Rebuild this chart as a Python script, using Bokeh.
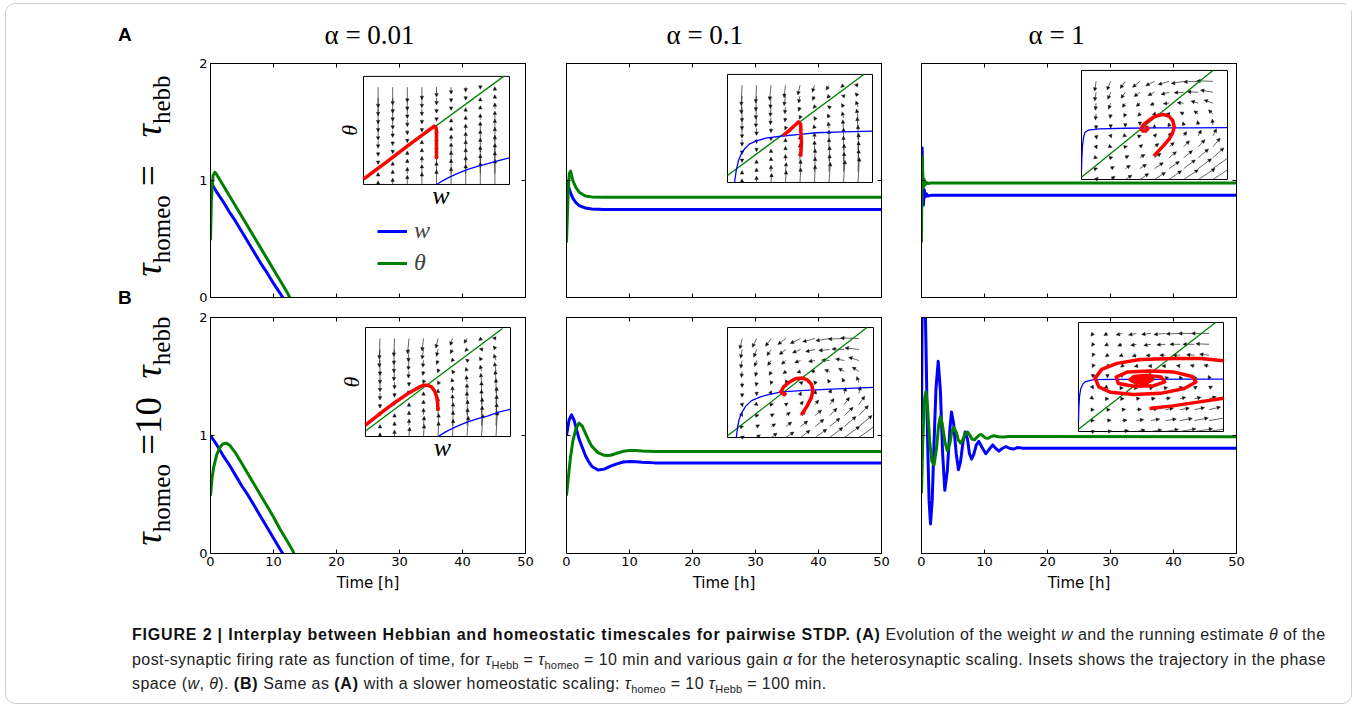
import math
from bokeh.plotting import figure
from bokeh.models import (Range1d, LinearAxis, FixedTicker, Arrow, NormalHead,
                          Legend, LegendItem, Div, Title, ColumnDataSource)
from bokeh.layouts import row, column
from bokeh.embed import file_html
from bokeh.resources import INLINE
from bokeh.core.properties import value

# ============================ data ============================
col_titles = ["α = 0.01", "α = 0.1", "α = 1"]
x_ticks = [0, 10, 20, 30, 40, 50]
y_ticks = [0, 1, 2]
x_label = "Time [h]"
legend_labels = ["w", "θ"]
inset_lim = [0, 2]
inset_w_grid = [0.2, 0.4, 0.6, 0.8, 1.0, 1.2, 1.4, 1.6, 1.8]
inset_th_grid = [1.8, 1.6, 1.4, 1.2, 1.0, 0.8, 0.6, 0.4, 0.2, 0.0]  # rows, top -> bottom

# ---- time courses (t in hours): w (blue) and theta (green)
a1_t_w = [0, 0.2, 1, 2, 3, 4, 5, 6, 7, 8, 9, 10, 11, 11.7]
a1_w = [0.99, 0.97, 0.90, 0.82, 0.73, 0.65, 0.56, 0.47, 0.38, 0.29, 0.21, 0.12, 0.04, -0.02]
a1_t_th = [0, 0.15, 0.4, 0.7, 1, 2, 3, 4, 5, 6, 7, 8, 9, 10, 11, 12, 12.7]
a1_th = [0.49, 0.85, 1.04, 1.07, 1.05, 0.96, 0.87, 0.78, 0.69, 0.60, 0.51, 0.42, 0.33, 0.24, 0.15, 0.06, -0.01]

a2_t_w = [0, 0.15, 0.3, 0.6, 1, 1.5, 2, 3, 4, 6, 50]
a2_w = [0.99, 0.98, 0.95, 0.90, 0.85, 0.81, 0.785, 0.765, 0.757, 0.752, 0.752]
a2_t_th = [0, 0.15, 0.3, 0.45, 0.65, 1, 1.5, 2, 3, 4, 6, 50]
a2_th = [0.47, 0.72, 0.95, 1.06, 1.08, 1.00, 0.94, 0.90, 0.868, 0.86, 0.857, 0.857]

a3_t_w = [0, 0.05, 0.1, 0.2, 0.3, 0.45, 0.6, 0.8, 1.0, 1.5, 50]
a3_w = [1.0, 1.2, 1.28, 1.0, 0.79, 0.92, 0.86, 0.885, 0.868, 0.873, 0.873]
a3_t_th = [0, 0.05, 0.12, 0.25, 0.4, 0.55, 0.75, 1.0, 1.5, 50]
a3_th = [0.47, 0.9, 1.21, 0.93, 1.01, 0.96, 0.985, 0.975, 0.978, 0.978]

b1_t_w = [0, 1, 2, 3, 4, 5, 6, 7, 8, 9, 10, 11, 11.7]
b1_w = [1.0, 0.92, 0.83, 0.75, 0.66, 0.57, 0.49, 0.40, 0.31, 0.22, 0.13, 0.04, -0.02]
b1_t_th = [0, 0.25, 0.5, 1, 1.5, 2, 2.5, 3, 4, 5, 6, 7, 8, 9, 10, 11, 12, 13, 13.4]
b1_th = [0.49, 0.64, 0.73, 0.84, 0.90, 0.93, 0.935, 0.92, 0.85, 0.76, 0.67, 0.58, 0.49, 0.40, 0.31, 0.21, 0.12, 0.03, -0.02]

b2_t_w = [0, 0.4, 0.8, 1.2, 1.6, 2, 2.5, 3, 3.5, 4, 5, 6, 7, 8, 9, 10, 11, 12, 14, 50]
b2_w = [1.0, 1.13, 1.175, 1.13, 1.05, 0.97, 0.90, 0.83, 0.78, 0.74, 0.708, 0.715, 0.74, 0.76, 0.775, 0.78, 0.778, 0.773, 0.768, 0.768]
b2_t_th = [0, 0.3, 0.6, 1.0, 1.5, 2.0, 2.5, 3, 3.5, 4, 5, 6, 6.5, 7, 8, 9, 10, 11, 12, 14, 50]
b2_th = [0.49, 0.65, 0.80, 0.95, 1.06, 1.105, 1.08, 1.02, 0.96, 0.91, 0.855, 0.832, 0.83, 0.833, 0.85, 0.866, 0.873, 0.872, 0.868, 0.864, 0.864]

b3_t_w = [0, 0.1, 0.25, 0.45, 0.7, 0.95, 1.2, 1.43, 1.7, 2.0, 2.3, 2.65, 3.0, 3.35, 3.7, 4.1, 4.5, 4.76,
          5.1, 5.5, 5.87, 6.2, 6.6, 6.93, 7.3, 7.6, 7.94, 8.3, 8.7, 9.1, 9.6, 10.2, 10.7, 11.3, 11.8,
          12.3, 12.8, 13.4, 14.0, 14.6, 15.3, 16.0, 50]
b3_w = [1.0, 2.0, 2.6, 2.5, 1.8, 1.0, 0.45, 0.25, 0.45, 0.95, 1.40, 1.63, 1.38, 0.85, 0.535, 0.70, 1.05, 1.20,
        1.10, 0.85, 0.71, 0.78, 0.95, 1.03, 0.97, 0.85, 0.80, 0.84, 0.92, 0.95, 0.90, 0.845, 0.88, 0.92, 0.89,
        0.868, 0.89, 0.907, 0.89, 0.885, 0.898, 0.893, 0.893]
b3_t_th = [0, 0.2, 0.45, 0.7, 0.95, 1.3, 1.65, 2.0, 2.4, 2.7, 3.0, 3.3, 3.7, 4.1, 4.5, 4.8, 5.1, 5.5, 5.85,
           6.2, 6.6, 7.0, 7.3, 7.7, 8.0, 8.4, 8.8, 9.2, 9.5, 9.9, 10.2, 10.6, 11.0, 11.5, 12.2, 13.0, 14.0, 50]
b3_th = [0.51, 0.95, 1.30, 1.37, 1.25, 0.95, 0.78, 0.75, 0.90, 1.08, 1.16, 1.10, 0.95, 0.87, 0.93, 1.03, 1.07,
         1.03, 0.96, 0.935, 0.97, 1.02, 1.03, 1.0, 0.97, 0.963, 0.985, 1.005, 1.008, 0.99, 0.978, 0.977, 0.99,
         0.998, 0.99, 0.988, 0.992, 0.99]

# ---- insets: phase plane (w, theta); green = theta nullcline, blue = w nullcline, red = trajectory
a1_green_w, a1_green_th = [0, 1.92], [0.10, 2.0]
a1_blue_w = [1.0, 1.05, 1.1, 1.2, 1.3, 1.41, 1.55, 1.69, 1.85, 2.0]
a1_blue_th = [0.0, 0.04, 0.08, 0.15, 0.21, 0.27, 0.33, 0.38, 0.44, 0.49]
a1_red_w = [1.0, 1.0, 1.0, 0.99, 0.97, 0.9, 0.6, 0.3, 0.0]
a1_red_th = [0.47, 0.8, 1.0, 1.06, 1.08, 1.01, 0.71, 0.40, 0.10]

a2_green_w, a2_green_th = [0, 1.88], [0.13, 2.0]
a2_blue_w = [0.097, 0.12, 0.15, 0.19, 0.24, 0.30, 0.40, 0.53, 0.76, 1.0, 1.22, 1.6, 2.0]
a2_blue_th = [0.0, 0.22, 0.40, 0.53, 0.63, 0.71, 0.77, 0.82, 0.86, 0.89, 0.92, 0.935, 0.95]
a2_red_w = [1.01, 1.02, 1.01, 1.01, 0.98, 0.93, 0.85, 0.77]
a2_red_th = [0.48, 0.75, 0.98, 1.08, 1.12, 1.06, 0.96, 0.87]

a3_green_w, a3_green_th = [0, 1.80], [0.04, 2.0]
a3_blue_w = [0.0, 0.005, 0.014, 0.03, 0.046, 0.08, 0.115, 0.25, 0.6, 1.0, 1.5, 2.0]
a3_blue_th = [0.18, 0.4, 0.63, 0.78, 0.86, 0.895, 0.91, 0.93, 0.94, 0.945, 0.948, 0.95]
a3_red_w = [0.99, 1.06, 1.13, 1.20, 1.25, 1.27, 1.25, 1.20, 1.13, 1.06, 0.98, 0.92, 0.86, 0.83, 0.82, 0.84, 0.88, 0.91, 0.90, 0.87]
a3_red_th = [0.43, 0.53, 0.63, 0.74, 0.86, 0.97, 1.08, 1.16, 1.19, 1.18, 1.14, 1.08, 1.02, 0.97, 0.92, 0.89, 0.89, 0.93, 0.96, 0.95]

b1_green_w, b1_green_th = [0, 1.89], [0.10, 1.98]
b1_blue_w = [1.0, 1.05, 1.1, 1.2, 1.3, 1.41, 1.55, 1.69, 1.85, 2.0]
b1_blue_th = [0.0, 0.04, 0.08, 0.15, 0.21, 0.27, 0.33, 0.38, 0.45, 0.50]
b1_red_w = [1.0, 0.995, 0.98, 0.95, 0.91, 0.86, 0.81, 0.76, 0.6, 0.4, 0.2, 0.0]
b1_red_th = [0.47, 0.62, 0.74, 0.84, 0.91, 0.94, 0.94, 0.92, 0.80, 0.62, 0.42, 0.21]

b2_green_w, b2_green_th = [0, 1.91], [0.03, 2.0]
b2_blue_w = [0.12, 0.14, 0.16, 0.19, 0.25, 0.33, 0.45, 0.56, 0.74, 1.12, 1.5, 2.0]
b2_blue_th = [0.0, 0.2, 0.33, 0.44, 0.57, 0.67, 0.74, 0.78, 0.83, 0.86, 0.885, 0.91]
b2_red_w = [1.01, 1.09, 1.15, 1.17, 1.15, 1.09, 1.02, 0.93, 0.84, 0.77, 0.73, 0.77, 0.80]
b2_red_th = [0.41, 0.57, 0.73, 0.86, 0.97, 1.05, 1.08, 1.07, 1.00, 0.92, 0.83, 0.78, 0.81]

b3_green_w, b3_green_th = [0, 1.89], [0.04, 2.0]
b3_blue_w = [0.0, 0.005, 0.014, 0.03, 0.06, 0.09, 0.15, 0.21, 0.5, 1.0, 1.5, 2.0]
b3_blue_th = [0.18, 0.45, 0.64, 0.78, 0.87, 0.91, 0.935, 0.95, 0.955, 0.958, 0.96, 0.96]
b3_red1_w = [0.98, 1.3, 1.6, 2.0]
b3_red1_th = [0.42, 0.47, 0.53, 0.61]
b3_red2_w = [2.0, 1.69, 1.32, 0.85, 0.53, 0.32, 0.23, 0.28, 0.44, 0.76, 1.13, 1.46, 1.62, 1.57, 1.32, 0.99,
             0.67, 0.52, 0.55, 0.76, 1.04, 1.19, 1.14, 0.95, 0.76, 0.71, 0.79, 0.95, 1.02, 0.92, 0.81, 0.83, 0.92, 0.88]
b3_red2_th = [1.30, 1.34, 1.34, 1.32, 1.25, 1.14, 0.98, 0.82, 0.72, 0.68, 0.70, 0.79, 0.91, 1.01, 1.09, 1.11,
              1.09, 1.00, 0.88, 0.83, 0.84, 0.91, 1.00, 1.03, 1.01, 0.95, 0.90, 0.90, 0.95, 0.98, 0.97, 0.93, 0.93, 0.96]
b3_core = [0.86, 0.94, 0.30, 0.14]  # centre w, centre theta, width, height of the dense core

# ---- quiver fields, hundredths of inset units (rows: theta 1.8 -> 0.0, cols: w 0.2 -> 1.8)
q_slow_v = [
    [-38, -33, -28, -23, -18, -13, -9, -4, 1],
    [-33, -28, -23, -18, -13, -8, -4, 1, 6],
    [-28, -23, -18, -13, -8, -3, 2, 6, 11],
    [-23, -18, -13, -8, -3, 2, 7, 11, 16],
    [-18, -13, -8, -3, 2, 7, 12, 16, 21],
    [-13, -8, -3, 2, 7, 12, 17, 21, 26],
    [-8, -3, 2, 7, 12, 17, 22, 26, 31],
    [-3, 2, 7, 12, 17, 22, 27, 31, 36],
    [2, 7, 12, 17, 22, 27, 32, 36, 41],
    [7, 12, 17, 22, 27, 32, 37, 41, 46],
]
q_a1_u = [
    [0, 0, 0, 0, 0, 0, 0, 0, 0], [0, 0, 0, 0, 0, 0, 0, 0, 0], [0, 0, 0, 0, 0, 0, 0, 0, 0],
    [0, 0, 0, 0, 0, 0, 0, 0, 0], [0, 0, 0, 0, 0, 0, 0, 0, 0], [0, 0, 0, 0, 0, 0, 0, 0, 0],
    [0, 0, 0, 0, 0, 0, 0, 0, 0], [0, 0, 0, 0, 0, 0, 0, 0, 0], [0, 0, 0, 0, 0, 0, 0, 0, 0],
    [0, 0, 0, 0, 0, 0, 0, 0, 0],
]
q_tilt_u = [
    [-1, -1, -2, -2, -3, -3, -4, -4, -5],
    [-1, -1, -1, -2, -2, -3, -3, -3, -4],
    [0, -1, -1, -1, -2, -2, -2, -3, -3],
    [0, -1, -1, -1, -1, -1, -2, -2, -2],
    [0, 0, 0, -1, -1, -1, -1, -1, -1],
    [0, 0, 0, 0, 0, 0, 0, 0, 0],
    [0, 0, 0, 0, 0, 0, 0, 0, 1],
    [0, 0, 0, 0, 0, 1, 1, 1, 1],
    [0, 0, 0, 1, 1, 1, 1, 1, 1],
    [0, 0, 1, 1, 1, 1, 2, 2, 2],
]
q_a3_u = [
    [-2, -5, -7, -10, -12, -15, -17, -20, -22],
    [-2, -4, -6, -8, -9, -11, -13, -15, -17],
    [-1, -3, -4, -5, -6, -8, -9, -10, -12],
    [-1, -1, -2, -3, -3, -4, -5, -6, -6],
    [0, 0, 0, 0, 0, -1, -1, -1, -1],
    [1, 1, 2, 2, 3, 3, 4, 4, 5],
    [1, 2, 3, 4, 6, 7, 8, 9, 10],
    [2, 3, 5, 7, 9, 10, 12, 14, 15],
    [2, 5, 7, 9, 12, 14, 16, 18, 21],
    [3, 6, 9, 12, 15, 17, 20, 23, 26],
]
q_a3_v = [
    [-18, -16, -13, -11, -8, -6, -4, -1, 1],
    [-16, -13, -11, -8, -6, -4, -1, 1, 4],
    [-13, -11, -8, -6, -4, -1, 1, 4, 6],
    [-11, -8, -6, -4, -1, 1, 4, 6, 8],
    [-8, -6, -4, -1, 1, 4, 6, 8, 11],
    [-6, -4, -1, 1, 4, 6, 8, 11, 13],
    [-4, -1, 1, 4, 6, 8, 11, 13, 16],
    [-1, 1, 4, 6, 8, 11, 13, 16, 18],
    [1, 4, 6, 8, 11, 13, 16, 18, 20],
    [4, 6, 8, 11, 13, 16, 18, 20, 23],
]
q_b2_u = [
    [-3, -6, -8, -11, -14, -17, -19, -22, -25],
    [-2, -4, -6, -9, -11, -13, -15, -17, -19],
    [-2, -3, -5, -6, -8, -9, -11, -12, -14],
    [-1, -2, -3, -4, -5, -6, -7, -8, -9],
    [0, -1, -1, -1, -2, -2, -3, -3, -3],
    [0, 0, 1, 1, 1, 1, 2, 2, 2],
    [1, 2, 3, 3, 4, 5, 6, 7, 8],
    [1, 3, 4, 6, 7, 9, 10, 12, 13],
    [2, 4, 6, 8, 10, 12, 14, 16, 18],
    [3, 5, 8, 11, 13, 16, 18, 21, 24],
]
q_b2_v = [
    [-19, -16, -14, -11, -9, -6, -4, -1, 1],
    [-16, -14, -11, -9, -6, -4, -2, 1, 3],
    [-14, -11, -9, -7, -4, -2, 1, 3, 6],
    [-11, -9, -7, -4, -2, 1, 3, 6, 8],
    [-9, -7, -4, -2, 1, 3, 6, 8, 11],
    [-7, -4, -2, 1, 3, 6, 8, 11, 13],
    [-4, -2, 1, 3, 6, 8, 11, 13, 15],
    [-2, 1, 3, 6, 8, 10, 13, 15, 18],
    [1, 3, 5, 8, 10, 13, 15, 18, 20],
    [3, 5, 8, 10, 13, 15, 18, 20, 23],
]
q_b3_u = [
    [-3, -5, -8, -11, -13, -16, -19, -22, -24],
    [-2, -4, -6, -8, -10, -12, -14, -16, -18],
    [-1, -3, -4, -6, -7, -8, -10, -11, -13],
    [-1, -2, -2, -3, -4, -5, -5, -6, -7],
    [0, 0, 0, -1, -1, -1, -1, -1, -1],
    [1, 1, 2, 2, 3, 3, 4, 4, 5],
    [1, 2, 3, 5, 6, 7, 8, 9, 10],
    [2, 4, 5, 7, 9, 11, 13, 14, 16],
    [2, 5, 7, 10, 12, 15, 17, 19, 22],
    [3, 6, 9, 12, 15, 18, 22, 25, 28],
]
q_b3_v = [
    [-5, -4, -3, -3, -2, -2, -1, 0, 0],
    [-4, -3, -3, -2, -2, -1, 0, 0, 1],
    [-3, -3, -2, -2, -1, 0, 0, 1, 2],
    [-3, -2, -2, -1, 0, 0, 1, 2, 2],
    [-2, -2, -1, 0, 0, 1, 2, 2, 3],
    [-2, -1, 0, 0, 1, 1, 2, 3, 3],
    [-1, 0, 0, 1, 1, 2, 3, 3, 4],
    [0, 0, 1, 1, 2, 3, 3, 4, 5],
    [0, 1, 1, 2, 3, 3, 4, 5, 5],
    [1, 1, 2, 3, 3, 4, 5, 5, 6],
]

row_label_a = "<i>τ</i><sub>homeo</sub>&nbsp;=&nbsp;&nbsp;&nbsp;<i>τ</i><sub>hebb</sub>"
row_label_b = "<i>τ</i><sub>homeo</sub>&nbsp;=10&nbsp;&nbsp;<i>τ</i><sub>hebb</sub>"
caption_lines = [
    "<b>FIGURE 2 | Interplay between Hebbian and homeostatic timescales for pairwise STDP. (A)</b> "
    "Evolution of the weight <i>w</i> and the running estimate <i>θ</i> of the",
    "post-synaptic firing rate as function of time, for <i>τ</i><sub>Hebb</sub> = <i>τ</i><sub>homeo</sub> = 10 min "
    "and various gain <i>α</i> for the heterosynaptic scaling. Insets shows the trajectory in the phase",
    "space (<i>w</i>, <i>θ</i>). <b>(B)</b> Same as <b>(A)</b> with a slower homeostatic scaling: "
    "<i>τ</i><sub>homeo</sub> = 10 <i>τ</i><sub>Hebb</sub> = 100 min.",
]

# ============================ layout constants ============================
FRAME_W, FRAME_H = 315, 236
col_left = [211, 567, 922]
row_top = [62, 318]
b_left = [31, 21, 20]
b_right = [20, 20, 115]
b_top = [57, 12]
b_bottom = [8, 46]
title_left = [114, 100, 107]
inset_boxes = [
    [(364, 510, 75, 184), (728, 873, 73, 182), (1082, 1228, 69, 179)],
    [(366, 511, 328, 437), (728, 874, 328, 438), (1079, 1224, 323, 432)],
]
BLUE, GREEN, RED = "#0000ff", "#008000", "#ff0000"

panels = [
    [
        dict(tw=a1_t_w, w=a1_w, tth=a1_t_th, th=a1_th, gw=a1_green_w, gth=a1_green_th,
             bw=a1_blue_w, bth=a1_blue_th, red=[(a1_red_w, a1_red_th)], U=q_a1_u, V=q_slow_v),
        dict(tw=a2_t_w, w=a2_w, tth=a2_t_th, th=a2_th, gw=a2_green_w, gth=a2_green_th,
             bw=a2_blue_w, bth=a2_blue_th, red=[(a2_red_w, a2_red_th)], U=q_tilt_u, V=q_slow_v),
        dict(tw=a3_t_w, w=a3_w, tth=a3_t_th, th=a3_th, gw=a3_green_w, gth=a3_green_th,
             bw=a3_blue_w, bth=a3_blue_th, red=[(a3_red_w, a3_red_th)], U=q_a3_u, V=q_a3_v),
    ],
    [
        dict(tw=b1_t_w, w=b1_w, tth=b1_t_th, th=b1_th, gw=b1_green_w, gth=b1_green_th,
             bw=b1_blue_w, bth=b1_blue_th, red=[(b1_red_w, b1_red_th)], U=q_tilt_u, V=q_slow_v),
        dict(tw=b2_t_w, w=b2_w, tth=b2_t_th, th=b2_th, gw=b2_green_w, gth=b2_green_th,
             bw=b2_blue_w, bth=b2_blue_th, red=[(b2_red_w, b2_red_th)], U=q_b2_u, V=q_b2_v),
        dict(tw=b3_t_w, w=b3_w, tth=b3_t_th, th=b3_th, gw=b3_green_w, gth=b3_green_th,
             bw=b3_blue_w, bth=b3_blue_th, red=[(b3_red1_w, b3_red1_th), (b3_red2_w, b3_red2_th)],
             U=q_b3_u, V=q_b3_v, core=b3_core),
    ],
]


def style_axis(ax, show_labels):
    ax.axis_line_color = "black"
    ax.axis_line_width = 1
    ax.major_tick_line_color = "black"
    ax.major_tick_in = 4
    ax.major_tick_out = 0
    ax.minor_tick_in = 0
    ax.minor_tick_out = 0
    ax.minor_tick_line_color = None
    if show_labels:
        ax.major_label_text_font = "DejaVu Sans"
        ax.major_label_text_font_size = "13px"
        ax.major_label_text_color = "black"
        ax.major_label_standoff = 3
    else:
        ax.major_label_text_font_size = "1px"
        ax.major_label_text_color = None
        ax.major_label_standoff = 0


def add_quiver(p, U, V):
    lo, hi = inset_lim
    full = dict(x0=[], y0=[], x1=[], y1=[])
    clip = dict(x0=[], y0=[], x1=[], y1=[])
    dots = dict(x=[], y=[])
    for i, th in enumerate(inset_th_grid):
        for j, w in enumerate(inset_w_grid):
            du, dv = U[i][j] / 100.0, V[i][j] / 100.0
            if du == 0 and dv == 0:
                dots["x"].append(w)
                dots["y"].append(th)
                continue
            x1, y1 = w + du, th + dv
            if lo <= x1 <= hi and lo <= y1 <= hi:
                tgt = full
            else:
                f = 1.0
                if x1 > hi: f = min(f, (hi - w) / du)
                if x1 < lo: f = min(f, (lo - w) / du)
                if y1 > hi: f = min(f, (hi - th) / dv)
                if y1 < lo: f = min(f, (lo - th) / dv)
                x1, y1 = w + f * du, th + f * dv
                tgt = clip
            tgt["x0"].append(w); tgt["y0"].append(th)
            tgt["x1"].append(x1); tgt["y1"].append(y1)
    rn = dict(x_range_name="iw", y_range_name="ith")
    a1 = Arrow(end=NormalHead(size=3.5, fill_color="#111111", line_color="#111111", line_width=0.4),
               source=ColumnDataSource(full), x_start="x0", y_start="y0", x_end="x1", y_end="y1",
               line_color="#222222", line_width=0.7, level="underlay", **rn)
    a2 = Arrow(end=None, source=ColumnDataSource(clip), x_start="x0", y_start="y0", x_end="x1", y_end="y1",
               line_color="#222222", line_width=0.7, level="underlay", **rn)
    p.add_layout(a1)
    p.add_layout(a2)
    if dots["x"]:
        p.scatter(dots["x"], dots["y"], size=1.5, color="black", level="underlay", **rn)


def make_panel(ri, ci, d):
    width = b_left[ci] + FRAME_W + b_right[ci]
    height = b_top[ri] + FRAME_H + b_bottom[ri]
    p = figure(width=width, height=height, x_range=Range1d(x_ticks[0], x_ticks[-1]),
               y_range=Range1d(y_ticks[0], y_ticks[-1]), output_backend="svg", toolbar_location=None,
               min_border_left=b_left[ci], min_border_right=b_right[ci],
               min_border_top=b_top[ri], min_border_bottom=b_bottom[ri])
    p.margin = 0
    p.xgrid.visible = False
    p.ygrid.visible = False
    p.outline_line_color = "black"
    p.outline_line_width = 1
    p.background_fill_color = "white"
    p.border_fill_color = "white"
    p.xaxis.ticker = FixedTicker(ticks=x_ticks)
    p.yaxis.ticker = FixedTicker(ticks=y_ticks)
    style_axis(p.below[0], ri == 1)
    style_axis(p.left[0], ci == 0)
    top = LinearAxis(ticker=FixedTicker(ticks=x_ticks))
    right = LinearAxis(ticker=FixedTicker(ticks=y_ticks))
    style_axis(top, False)
    style_axis(right, False)
    p.add_layout(top, "above")
    p.add_layout(right, "right")
    if ri == 1:
        ax = p.below[0]
        ax.axis_label = x_label
        ax.axis_label_text_font = "DejaVu Sans"
        ax.axis_label_text_font_size = "15px"
        ax.axis_label_text_font_style = "normal"
        ax.axis_label_text_color = "black"
        ax.axis_label_standoff = 5
    if ri == 0:
        p.title = Title(text=col_titles[ci], align="left", text_font="Liberation Serif",
                        text_font_size="27px", text_font_style="normal", text_color="black",
                        offset=title_left[ci], standoff=27)

    # main time courses
    rw = p.line(d["tw"], d["w"], line_color=BLUE, line_width=3, line_join="round")
    rth = p.line(d["tth"], d["th"], line_color=GREEN, line_width=3, line_join="round")

    # inset ranges mapped onto the inset box
    fx0 = col_left[ci]; fx1 = fx0 + FRAME_W
    fy0 = row_top[ri]; fy1 = fy0 + FRAME_H
    bx0, bx1, by0, by1 = inset_boxes[ri][ci]
    lo, hi = inset_lim
    sx = (hi - lo) / (bx1 - bx0)
    sy = (hi - lo) / (by1 - by0)
    p.extra_x_ranges = {"iw": Range1d(lo - (bx0 - fx0) * sx, hi + (fx1 - bx1) * sx)}
    p.extra_y_ranges = {"ith": Range1d(lo - (fy1 - by1) * sy, hi + (by0 - fy0) * sy)}
    rn = dict(x_range_name="iw", y_range_name="ith")
    p.quad(left=[lo], right=[hi], bottom=[lo], top=[hi], fill_color="white", line_color="black",
           line_width=1, level="underlay", **rn)
    add_quiver(p, d["U"], d["V"])
    p.line(d["gw"], d["gth"], line_color=GREEN, line_width=1.3, **rn)
    p.line(d["bw"], d["bth"], line_color=BLUE, line_width=1.3, **rn)
    for (rwv, rtv) in d["red"]:
        p.line(rwv, rtv, line_color=RED, line_width=3.5, line_join="round", line_cap="butt", **rn)
    if "core" in d:
        cw, cth, ew, eh = d["core"]
        p.ellipse([cw], [cth], width=ew, height=eh, fill_color=RED, line_color=RED, **rn)

    if ci == 0:
        p.text([-0.19], [1.0], text=[legend_labels[1]], angle=math.pi / 2, text_align="center",
               text_baseline="middle", text_font=value("Liberation Serif"), text_font_style="italic",
               text_font_size="22px", text_color="black", **rn)
        p.text([1.06], [-0.21], text=[legend_labels[0]], text_align="center", text_baseline="middle",
               text_font=value("Liberation Serif"), text_font_style="italic", text_font_size="26px",
               text_color="black", **rn)
    if ri == 0 and ci == 0:
        leg = Legend(items=[LegendItem(label=value(legend_labels[0]), renderers=[rw]),
                            LegendItem(label=value(legend_labels[1]), renderers=[rth])],
                     location=(167, 21), padding=0, margin=0, spacing=5, glyph_width=30,
                     glyph_height=24, label_height=24, label_standoff=7,
                     label_text_font="Liberation Serif", label_text_font_style="italic",
                     label_text_font_size="24px", border_line_color=None, background_fill_alpha=0)
        p.add_layout(leg)
    return p


figs = [[make_panel(ri, ci, panels[ri][ci]) for ci in range(3)] for ri in range(2)]

left_w = col_left[0] - b_left[0] - 7
left_h = sum(b_top[r] + FRAME_H + b_bottom[r] for r in range(2))
sub_css = "font-size:25px;"
left_html = (
    f'<div style="position:relative;width:{left_w}px;height:{left_h}px;color:black;">'
    f'<div style="position:absolute;left:112px;top:21px;font-family:\'Liberation Sans\',Arial,sans-serif;'
    f'font-weight:bold;font-size:19px;line-height:1;">A</div>'
    f'<div style="position:absolute;left:112px;top:284px;font-family:\'Liberation Sans\',Arial,sans-serif;'
    f'font-weight:bold;font-size:19px;line-height:1;">B</div>'
    f'<div style="position:absolute;left:146px;top:172px;transform:translate(-50%,-50%) rotate(-90deg);'
    f'white-space:nowrap;font-family:\'Liberation Serif\',serif;font-size:37px;line-height:1;">'
    + row_label_a.replace("<sub>", f'<sub style="{sub_css}">') + '</div>'
    f'<div style="position:absolute;left:146px;top:427px;transform:translate(-50%,-50%) rotate(-90deg);'
    f'white-space:nowrap;font-family:\'Liberation Serif\',serif;font-size:37px;line-height:1;">'
    + row_label_b.replace("<sub>", f'<sub style="{sub_css}">') + '</div>'
    '</div>'
)
left_div = Div(text=left_html, width=left_w, height=left_h, margin=0)

cap_h = 104
cap_sub = '<sub style="font-size:11px;line-height:0;letter-spacing:0.2px;">'
cap_html = (
    f'<div style="position:relative;width:1340px;height:{cap_h}px;">'
    '<div style="position:absolute;left:126px;top:24px;font-family:\'Liberation Sans\',Arial,sans-serif;'
    'font-size:16px;letter-spacing:0.42px;line-height:24.6px;color:#222;white-space:nowrap;">'
    + "<br>".join(l.replace("<sub>", cap_sub).replace("<b>", '<b style="letter-spacing:0.82px;color:#111;">')
                  for l in caption_lines) +
    '</div></div>'
)
cap_div = Div(text=cap_html, width=1344, height=cap_h, margin=0)

grid = column(row(*figs[0]), row(*figs[1]))
top = row(left_div, grid)
root = column(top, cap_div, margin=(3, 0, 0, 5),
              styles={"border": "1px solid #cfcfcf", "border-radius": "10px"})

open("out.html", "w").write(file_html(root, INLINE, title="Figure 2"))
